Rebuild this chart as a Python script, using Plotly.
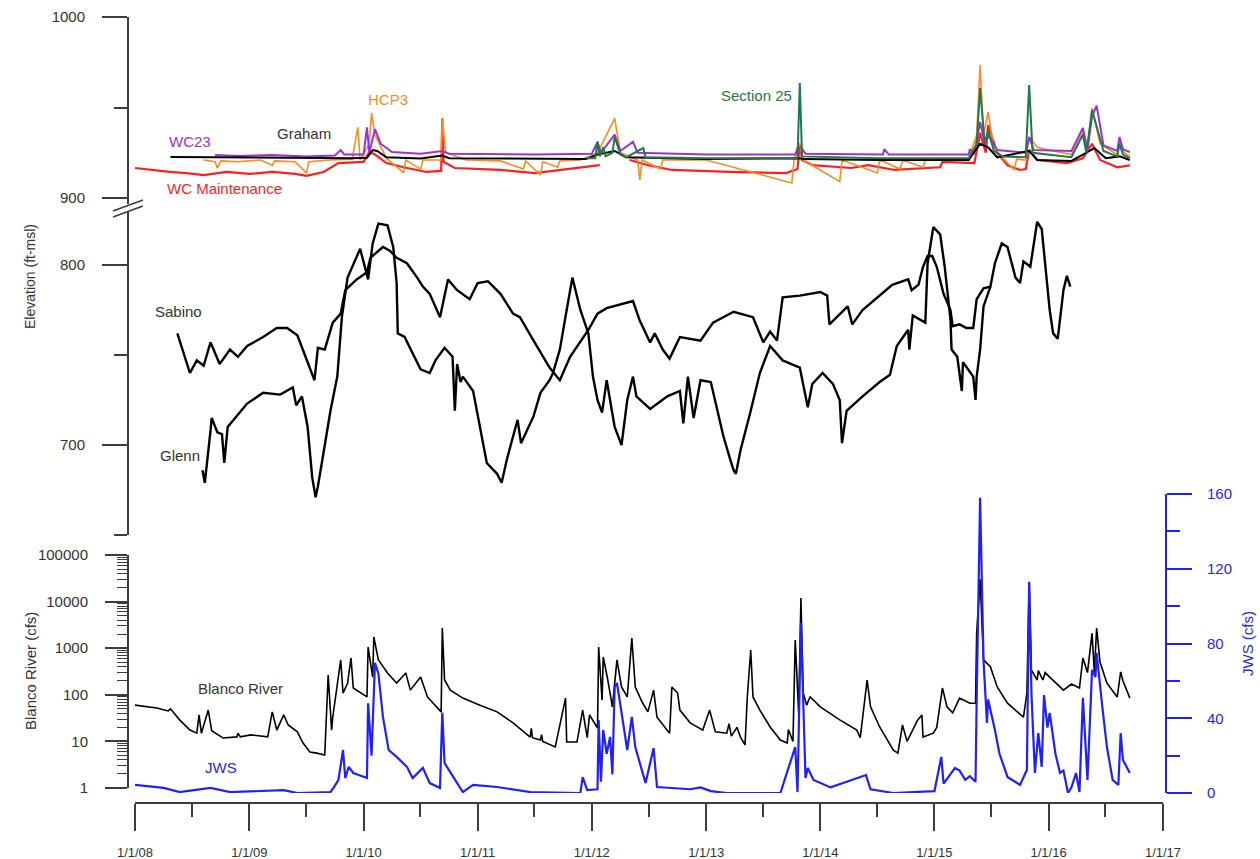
import plotly.graph_objects as go
from datetime import datetime

# ---------------- data (decimal years) ----------------
# Top panel: elevation (ft-msl)
wcm_t = [2008.0, 2008.15, 2008.3, 2008.45, 2008.6, 2008.8, 2009.0, 2009.2, 2009.4, 2009.5, 2009.65, 2009.78,
         2010.0, 2010.05, 2010.1, 2010.2, 2010.35, 2010.55, 2010.68, 2010.69, 2010.7, 2010.8, 2011.2, 2011.5,
         2011.85, 2012.07, 2012.2, 2012.33, 2012.5, 2012.7, 2013.2, 2013.7, 2013.8, 2013.82, 2013.84, 2013.93,
         2014.27, 2014.42, 2014.65, 2015.05, 2015.07, 2015.35, 2015.4, 2015.45, 2015.47, 2015.55, 2015.64,
         2015.75, 2015.8, 2015.83, 2015.9, 2016.16, 2016.3, 2016.38, 2016.45, 2016.6, 2016.71]
wcm_v = [916.6, 915.5, 914.4, 913.8, 912.7, 914.4, 913.3, 914.4, 913.3, 912.2, 914.4, 919.3,
         920.0, 925.4, 924.0, 919.3, 917.0, 914.4, 915.0, 944.0, 920.0, 916.6, 915.5, 913.8,
         916.6, 918.2, None, 921.0, 918.0, 915.5, 914.4, 913.8, 916.0, 930.0, 921.0, 918.2,
         916.6, 918.2, 915.5, 917.0, 920.0, 919.3, 936.0, 925.0, 940.3, 925.0, 918.0,
         915.5, 916.0, 926.5, 921.0, 919.3, 922.0, 930.0, 921.0, 917.0, 918.0]

hcp3_t = [2008.6, 2008.7, 2008.72, 2008.75, 2008.9, 2009.1, 2009.2, 2009.22, 2009.4, 2009.5, 2009.52, 2009.7,
          2009.9, 2009.95, 2009.97, 2010.05, 2010.07, 2010.1, 2010.2, 2010.35, 2010.37, 2010.5, 2010.52, 2010.68,
          2010.69, 2010.72, 2010.9, 2011.2, 2011.4, 2011.42, 2011.55, 2011.57, 2011.7, 2011.72, 2011.9, 2012.05,
          2012.2, 2012.25, 2012.4, 2012.42, 2012.44, 2012.6, 2012.62, 2013.0, 2013.75, 2013.77, 2013.82, 2013.85,
          2014.17, 2014.19, 2014.5, 2014.52, 2014.7, 2014.72, 2014.9, 2014.92, 2015.3, 2015.37, 2015.4, 2015.43,
          2015.47, 2015.52, 2015.6, 2015.7, 2015.72, 2015.8, 2015.83, 2015.9, 2016.0, 2016.2, 2016.3, 2016.34,
          2016.38, 2016.45, 2016.6, 2016.62, 2016.66, 2016.71]
hcp3_v = [921.0, 920.0, 916.5, 920.5, 920.0, 921.0, 918.0, 920.5, 920.0, 913.8, 920.0, 921.0,
          921.5, 939.0, 921.0, 930.0, 947.0, 935.0, 922.0, 914.0, 921.0, 916.0, 921.0, 921.0,
          944.0, 925.0, 921.0, 920.5, 916.0, 920.5, 912.7, 920.0, 917.0, 920.5, 921.0, 925.0,
          944.0, 925.0, 921.0, 910.0, 921.0, 916.0, 921.0, 921.0, 908.3, 921.0, 930.0, 921.0,
          909.0, 921.0, 913.8, 921.0, 916.0, 921.0, 917.0, 921.0, 921.5, 935.0, 973.5, 935.0,
          947.5, 928.0, 922.0, 915.5, 921.5, 921.0, 933.7, 928.0, 926.5, 924.0, 936.0, 926.0,
          949.7, 930.0, 924.0, 932.0, 925.0, 923.0]

wc23_t = [2008.7, 2008.9, 2009.2, 2009.5, 2009.75, 2009.8, 2009.83, 2010.0, 2010.03, 2010.05, 2010.1, 2010.15,
          2010.25, 2010.5, 2010.69, 2010.75, 2011.5, 2012.0, 2012.05, 2012.08, 2012.2, 2012.25, 2012.36, 2012.4,
          2013.0, 2013.78, 2013.8, 2013.83, 2013.87, 2014.55, 2014.56, 2014.6, 2015.3, 2015.31, 2015.35, 2015.4,
          2015.45, 2015.47, 2015.55, 2015.8, 2015.83, 2015.87, 2016.2, 2016.3, 2016.34, 2016.38, 2016.42, 2016.48,
          2016.6, 2016.62, 2016.65, 2016.71]
wc23_v = [923.8, 923.2, 923.8, 923.0, 923.5, 926.5, 924.0, 924.0, 939.0, 925.0, 938.0, 930.0,
          925.4, 924.5, 926.0, 924.5, 924.0, 924.5, 931.0, 925.0, 935.0, 926.0, 931.0, 925.0,
          924.0, 924.0, 927.6, 928.0, 924.5, 924.0, 927.0, 924.0, 924.0, 927.0, 924.5, 942.0,
          928.0, 935.0, 926.5, 925.0, 933.7, 926.5, 926.0, 938.7, 927.0, 945.0, 951.0, 929.0,
          926.0, 933.7, 927.0, 925.4]

graham_t = [2008.31, 2008.8, 2009.3, 2009.6, 2009.9, 2010.03, 2010.08, 2010.12, 2010.2, 2010.5, 2010.69, 2010.75,
            2011.5, 2011.95, 2012.05, 2012.2, 2012.3, 2013.0, 2013.82, 2013.85, 2014.5, 2015.3, 2015.4, 2015.47,
            2015.55, 2015.83, 2015.9, 2016.2, 2016.3, 2016.4, 2016.5, 2016.62, 2016.71]
graham_v = [922.7, 922.5, 922.3, 921.8, 922.0, 922.2, 926.5, 926.0, 922.5, 921.8, 923.5, 922.0,
            921.5, 921.5, 924.0, 926.0, 922.5, 921.5, 922.0, 921.5, 921.0, 921.0, 930.0, 928.0,
            922.5, 926.0, 921.0, 920.5, 924.0, 927.6, 922.0, 923.0, 921.0]

sec25_t = [2011.95, 2012.03, 2012.05, 2012.07, 2012.1, 2012.12, 2012.18, 2012.2, 2012.25, 2012.3, 2012.45, 2012.47,
           2013.0, 2013.8, 2013.82, 2013.84, 2014.5, 2015.3, 2015.37, 2015.4, 2015.44, 2015.47, 2015.52, 2015.6,
           2015.8, 2015.83, 2015.86, 2016.2, 2016.3, 2016.33, 2016.38, 2016.42, 2016.48, 2016.6, 2016.62, 2016.65,
           2016.71]
sec25_v = [922.0, 922.0, 931.0, 923.0, 928.0, 923.0, 925.0, 933.7, 924.0, 922.5, 927.6, 922.5,
           922.0, 922.0, 963.5, 923.0, 922.0, 922.0, 930.0, 960.8, 930.0, 937.6, 926.0, 923.0,
           922.5, 962.4, 925.0, 922.5, 935.0, 925.0, 948.6, 940.0, 926.0, 923.0, 930.0, 924.0,
           922.0]

# Middle panel: elevation (ft-msl)
sabino_t = [2008.37, 2008.48, 2008.54, 2008.6, 2008.66, 2008.74, 2008.83, 2008.9, 2008.98, 2009.12, 2009.24,
            2009.33, 2009.42, 2009.47, 2009.55, 2009.57, 2009.6, 2009.66, 2009.73, 2009.8, 2009.84, 2009.94,
            2010.03, 2010.06, 2010.17, 2010.23, 2010.29, 2010.38, 2010.47, 2010.52, 2010.58, 2010.67, 2010.74,
            2010.82, 2010.93, 2011.0, 2011.09, 2011.2, 2011.31, 2011.37, 2011.49, 2011.63, 2011.72, 2011.81,
            2011.97, 2012.05, 2012.13, 2012.25, 2012.36, 2012.42, 2012.51, 2012.55, 2012.62, 2012.68, 2012.77,
            2012.95, 2013.06, 2013.24, 2013.41, 2013.5, 2013.56, 2013.62, 2013.67, 2013.82, 2014.0, 2014.06,
            2014.08, 2014.24, 2014.28, 2014.37, 2014.46, 2014.63, 2014.77, 2014.8, 2014.86, 2014.9, 2014.94,
            2014.98, 2015.02, 2015.08, 2015.14, 2015.16, 2015.22, 2015.28, 2015.34, 2015.37, 2015.43, 2015.49,
            2015.53, 2015.59, 2015.64, 2015.71, 2015.75, 2015.78, 2015.84, 2015.9, 2015.94, 2016.01, 2016.04,
            2016.08, 2016.13, 2016.16, 2016.19]
sabino_v = [762, 740, 747, 744, 757, 745, 753, 749, 755, 760, 765,
            765, 761, 753, 740, 736, 754, 753, 768, 773, 786, 792,
            796, 804, 810, 808, 804, 801, 793, 788, 784, 771, 792,
            786, 781, 790, 791, 784, 773, 771, 758, 743, 736, 749,
            764, 773, 776, 778, 780, 769, 757, 762, 753, 748, 760,
            758, 768, 774, 771, 757, 763, 758, 782, 783, 785, 783,
            767, 777, 767, 775, 780, 789, 792, 786, 789, 799, 805,
            805, 799, 784, 775, 766, 767, 765, 765, 781, 787, 788,
            801, 812, 810, 793, 790, 802, 799, 824, 820, 775, 762,
            759, 786, 794, 788]

glenn_t = [2008.59, 2008.61, 2008.66, 2008.67, 2008.72, 2008.76, 2008.78, 2008.81, 2008.98, 2009.12, 2009.27,
           2009.38, 2009.41, 2009.46, 2009.51, 2009.55, 2009.58, 2009.6, 2009.65, 2009.71, 2009.77, 2009.81,
           2009.86, 2009.97, 2010.04, 2010.08, 2010.13, 2010.21, 2010.26, 2010.29, 2010.3, 2010.36, 2010.43,
           2010.5, 2010.58, 2010.63, 2010.71, 2010.78, 2010.8, 2010.82, 2010.85, 2010.87, 2010.96, 2011.02,
           2011.08, 2011.17, 2011.21, 2011.26, 2011.35, 2011.38, 2011.49, 2011.55, 2011.63, 2011.66, 2011.72,
           2011.78, 2011.83, 2011.9, 2011.97, 2012.01, 2012.05, 2012.09, 2012.13, 2012.2, 2012.26, 2012.31,
           2012.36, 2012.39, 2012.51, 2012.66, 2012.77, 2012.8, 2012.84, 2012.89, 2012.95, 2013.04, 2013.1,
           2013.15, 2013.21, 2013.24, 2013.26, 2013.3, 2013.39, 2013.47, 2013.56, 2013.67, 2013.82, 2013.89,
           2013.93, 2014.02, 2014.11, 2014.17, 2014.19, 2014.23, 2014.37, 2014.52, 2014.61, 2014.67, 2014.77,
           2014.78, 2014.81, 2014.92, 2014.94, 2014.99, 2015.05, 2015.09, 2015.14, 2015.15, 2015.2, 2015.24,
           2015.25, 2015.34, 2015.36, 2015.37, 2015.4, 2015.43, 2015.49]
glenn_v = [686, 679, 708, 715, 707, 706, 690, 710, 723, 729, 728,
           732, 722, 727, 710, 682, 671, 677, 696, 719, 738, 771,
           793, 809, 792, 812, 823, 822, 810, 790, 762, 760, 751,
           742, 740, 747, 754, 749, 719, 745, 735, 738, 730, 710,
           690, 684, 679, 693, 714, 701, 716, 729, 736, 740, 753,
           775, 793, 775, 762, 738, 725, 718, 736, 710, 700, 725,
           738, 727, 720, 727, 730, 712, 738, 715, 736, 735, 719,
           705, 692, 686, 684, 697, 719, 740, 755, 747, 743, 721,
           734, 740, 734, 725, 701, 719, 727, 735, 739, 755, 764,
           753, 772, 768, 801, 821, 817, 799, 770, 753, 749, 730,
           746, 738, 725, 738, 753, 777, 788]

# Bottom panel: Blanco River (cfs, log scale) and JWS (cfs)
blanco_t = [2008.0, 2008.19, 2008.29, 2008.31, 2008.39, 2008.48, 2008.54, 2008.56, 2008.58, 2008.64, 2008.67,
            2008.77, 2008.89, 2008.9, 2008.92, 2009.01, 2009.16, 2009.2, 2009.24, 2009.3, 2009.34, 2009.42,
            2009.47, 2009.53, 2009.59, 2009.66, 2009.69, 2009.72, 2009.73, 2009.77, 2009.8, 2009.82, 2009.86,
            2009.89, 2009.91, 2010.03, 2010.04, 2010.08, 2010.09, 2010.13, 2010.21, 2010.29, 2010.37, 2010.41,
            2010.5, 2010.56, 2010.68, 2010.69, 2010.71, 2010.76, 2010.87, 2011.02, 2011.17, 2011.31, 2011.46,
            2011.47, 2011.48, 2011.55, 2011.56, 2011.57, 2011.68, 2011.77, 2011.78, 2011.87, 2011.92, 2011.96,
            2011.98, 2012.05, 2012.06, 2012.09, 2012.1, 2012.14, 2012.18, 2012.22, 2012.26, 2012.31, 2012.35,
            2012.38, 2012.44, 2012.49, 2012.54, 2012.57, 2012.68, 2012.7, 2012.75, 2012.77, 2012.86, 2012.97,
            2013.03, 2013.08, 2013.18, 2013.2, 2013.22, 2013.27, 2013.3, 2013.34, 2013.36, 2013.39, 2013.41,
            2013.47, 2013.56, 2013.65, 2013.71, 2013.72, 2013.76, 2013.78, 2013.81, 2013.83, 2013.85, 2013.88,
            2013.91, 2014.0, 2014.17, 2014.32, 2014.35, 2014.41, 2014.44, 2014.52, 2014.64, 2014.68, 2014.72,
            2014.76, 2014.85, 2014.89, 2014.9, 2014.99, 2015.02, 2015.07, 2015.11, 2015.16, 2015.22, 2015.31,
            2015.36, 2015.37, 2015.4, 2015.43, 2015.49, 2015.55, 2015.64, 2015.78, 2015.81, 2015.83, 2015.85,
            2015.9, 2015.91, 2015.95, 2015.97, 2016.01, 2016.13, 2016.2, 2016.27, 2016.3, 2016.34, 2016.38,
            2016.4, 2016.42, 2016.45, 2016.51, 2016.6, 2016.63, 2016.65, 2016.71]
blanco_v = [60, 52, 45, 50, 29, 17.5, 15, 37, 15, 47, 17,
            11.8, 12.5, 15, 12.5, 13.8, 12.5, 43, 17.5, 37, 22.5, 16,
            9.2, 5.9, 5.6, 5.1, 266, 17.5, 33, 147, 560, 109, 177,
            617, 140, 90, 1060, 240, 1740, 560, 295, 178, 295, 126,
            240, 90, 43, 2700, 208, 126, 85, 60, 43, 25, 12.4,
            19, 12, 10.7, 14, 10, 7.6, 85, 9.7, 9.7, 47, 12,
            37, 19.4, 1060, 77, 650, 208, 55, 560, 147, 90, 1650,
            147, 70, 43, 126, 33, 15, 147, 109, 47, 25, 17.5,
            47, 16, 15, 24, 13, 20, 12.4, 8.4, 90, 915, 90,
            47, 20.4, 10.7, 9.2, 18, 10, 1500, 41, 12000, 109, 60,
            90, 55, 29, 17.5, 12, 208, 55, 20.4, 6.5, 5.6, 22.5,
            10, 28, 37, 12.4, 15, 20, 140, 55, 41, 85, 66,
            66, 2100, 30000, 560, 400, 147, 66, 33, 109, 25000, 340,
            208, 330, 208, 300, 240, 126, 170, 140, 617, 300, 2100,
            300, 2700, 500, 177, 90, 310, 200, 85]

jws_t = [2008.0, 2008.13, 2008.25, 2008.39, 2008.66, 2008.83, 2009.3, 2009.42, 2009.71, 2009.74, 2009.78,
         2009.82, 2009.84, 2009.87, 2009.91, 2010.03, 2010.04, 2010.07, 2010.1, 2010.13, 2010.17, 2010.22,
         2010.29, 2010.38, 2010.43, 2010.52, 2010.58, 2010.67, 2010.69, 2010.71, 2010.82, 2010.87, 2010.96,
         2011.17, 2011.46, 2011.9, 2011.92, 2011.96, 2012.05, 2012.06, 2012.08, 2012.1, 2012.13, 2012.16,
         2012.18, 2012.2, 2012.22, 2012.25, 2012.31, 2012.35, 2012.38, 2012.47, 2012.54, 2012.57, 2012.86,
         2012.95, 2013.04, 2013.18, 2013.65, 2013.78, 2013.8, 2013.83, 2013.87, 2013.89, 2013.94, 2014.09,
         2014.4, 2014.44, 2014.64, 2015.0, 2015.06, 2015.08, 2015.18, 2015.22, 2015.27, 2015.31, 2015.36,
         2015.37, 2015.4, 2015.43, 2015.46, 2015.47, 2015.5, 2015.53, 2015.57, 2015.64, 2015.75, 2015.81,
         2015.83, 2015.85, 2015.88, 2015.91, 2015.94, 2015.96, 2015.99, 2016.01, 2016.06, 2016.1, 2016.13,
         2016.17, 2016.2, 2016.24, 2016.27, 2016.3, 2016.34, 2016.38, 2016.41, 2016.42, 2016.47, 2016.51,
         2016.56, 2016.61, 2016.63, 2016.65, 2016.71]
jws_v = [4.3, 3.5, 2.7, 0.5, 2.7, 0.5, 1.5, 0.0, 0.5, 3.0, 7.0,
         23.0, 8.0, 14.0, 10.7, 8.0, 48.0, 20.0, 69.6, 64.0, 40.7, 23.0,
         19.3, 14.0, 8.0, 13.4, 5.3, 2.7, 43.0, 16.0, 5.3, 0.5, 4.3,
         3.2, 0.5, 0.0, 8.5, 1.5, 2.0, 39.0, 6.0, 33.7, 21.0, 30.0,
         10.0, 56.7, 58.9, 46.0, 23.0, 40.7, 24.6, 5.3, 24.0, 3.2, 2.0,
         3.0, 1.0, 0.0, 0.0, 24.6, 0.5, 91.0, 8.0, 13.4, 7.0, 3.0,
         9.6, 2.0, 0.0, 1.0, 19.3, 5.0, 13.4, 12.0, 7.0, 9.0, 6.0,
         50.0, 158.0, 71.0, 37.5, 50.0, 42.0, 33.7, 21.0, 8.6, 4.3, 12.3,
         113.0, 53.5, 10.7, 32.0, 14.0, 52.4, 35.0, 42.8, 21.0, 10.7, 12.0,
         0.0, 3.0, 10.7, 0.5, 51.0, 7.0, 65.8, 62.0, 75.0, 46.0, 24.6,
         7.0, 4.3, 32.0, 17.7, 10.7]

x_range = [2008.0, 2017.0]
blanco_ticks = [1, 10, 100, 1000, 10000, 100000]
blanco_ticktext = ['1', '10', '100', '1000', '10000', '100000']


def to_date(d):
    """Decimal year -> datetime."""
    if d is None:
        return None
    y = int(d)
    start = datetime(y, 1, 1)
    end = datetime(y + 1, 1, 1)
    return start + (end - start) * (d - y)


def dates(ts):
    return [to_date(t) for t in ts]


# ---------------- figure ----------------
W, H = 1260, 859
ML, MR, MT, MB = 128, 94, 17, 56
PW, PH = W - ML - MR, H - MT - MB


def px_x(p):  # pixel -> paper x
    return (p - ML) / PW


def px_y(p):  # pixel -> paper y
    return (H - MB - p) / PH


AX = '#3c3c3c'
TXT = '#333333'
PURPLE = '#9a33d4'
ORANGE = '#ff8a1f'
GREEN = '#1e7a48'
RED = '#ff1f1f'
BLUE = '#1f1fff'
FONT = 'Liberation Sans, Arial, sans-serif'

fig = go.Figure()

# top panel
fig.add_trace(go.Scatter(x=dates(wcm_t), y=wcm_v, mode='lines', line=dict(color=RED, width=2.2),
                         yaxis='y', connectgaps=False, name='WC Maintenance'))
fig.add_trace(go.Scatter(x=dates(hcp3_t), y=hcp3_v, mode='lines', line=dict(color=ORANGE, width=1.6),
                         yaxis='y', name='HCP3'))
fig.add_trace(go.Scatter(x=dates(wc23_t), y=wc23_v, mode='lines', line=dict(color=PURPLE, width=2),
                         yaxis='y', name='WC23'))
fig.add_trace(go.Scatter(x=dates(graham_t), y=graham_v, mode='lines', line=dict(color='black', width=2),
                         yaxis='y', name='Graham'))
fig.add_trace(go.Scatter(x=dates(sec25_t), y=sec25_v, mode='lines', line=dict(color=GREEN, width=2),
                         yaxis='y', name='Section 25'))
# middle panel
fig.add_trace(go.Scatter(x=dates(sabino_t), y=sabino_v, mode='lines', line=dict(color='black', width=2.4),
                         yaxis='y2', name='Sabino'))
fig.add_trace(go.Scatter(x=dates(glenn_t), y=glenn_v, mode='lines', line=dict(color='black', width=2.4),
                         yaxis='y2', name='Glenn'))
# bottom panel
fig.add_trace(go.Scatter(x=dates(blanco_t), y=blanco_v, mode='lines', line=dict(color='black', width=1.6),
                         yaxis='y3', name='Blanco River'))
fig.add_trace(go.Scatter(x=dates(jws_t), y=jws_v, mode='lines', line=dict(color=BLUE, width=2.2),
                         yaxis='y4', name='JWS'))

common_y = dict(showgrid=False, zeroline=False, showline=True, linecolor=AX, linewidth=2,
                ticks='outside', tickcolor=AX, tickwidth=2, automargin=False,
                tickfont=dict(family=FONT, size=15, color=TXT))

log_minor = [m * 10 ** k for k in range(5) for m in range(2, 10)]

fig.update_layout(
    width=W, height=H,
    margin=dict(l=ML, r=MR, t=MT, b=MB, autoexpand=False),
    paper_bgcolor='white', plot_bgcolor='rgba(0,0,0,0)',
    showlegend=False,
    font=dict(family=FONT, color=TXT),
    xaxis=dict(type='date', range=[to_date(x_range[0]), to_date(x_range[1])],
               domain=[px_x(135), px_x(1163)], anchor='free', position=0, automargin=False,
               showgrid=False, zeroline=False, showline=True, linecolor=AX, linewidth=2,
               ticks='outside', ticklen=27, tickwidth=1.5, tickcolor=AX,
               dtick='M12', tick0='2008-01-01', tickformat='%-m/%-d/%y',
               ticklabelstandoff=10,
               minor=dict(dtick='M6', tick0='2008-01-01', ticklen=13, tickwidth=1.5,
                          tickcolor=AX, showgrid=False),
               tickfont=dict(family=FONT, size=13, color=TXT)),
    yaxis=dict(range=[896.7, 1000], domain=[px_y(204), 1.0], anchor='free', position=0,
               tickmode='linear', tick0=900, dtick=100, ticklen=25, ticklabelstandoff=14,
               minor=dict(dtick=50, tick0=900, ticklen=13, tickwidth=2, tickcolor=AX, showgrid=False),
               **common_y),
    yaxis2=dict(range=[650, 830], domain=[px_y(535), px_y(211)], anchor='free', position=0,
                tickmode='linear', tick0=700, dtick=100, ticklen=25, ticklabelstandoff=14,
                minor=dict(dtick=50, tick0=650, ticklen=13, tickwidth=2, tickcolor=AX, showgrid=False),
                **common_y),
    yaxis3=dict(type='log', range=[0, 5], domain=[px_y(788), px_y(555)], anchor='free', position=0,
                tickmode='array', tickvals=blanco_ticks, ticktext=blanco_ticktext,
                ticklen=22, ticklabelstandoff=14,
                minor=dict(tickmode='array', tickvals=log_minor, ticklen=10, tickwidth=1.2,
                           tickcolor=AX, showgrid=False),
                **common_y),
    yaxis4=dict(range=[0, 160], domain=[px_y(793), px_y(494)], anchor='free', position=1, side='right',
                showgrid=False, zeroline=False, showline=True, linecolor=BLUE, linewidth=2, automargin=False,
                ticks='outside', tickcolor=BLUE, tickwidth=2, ticklen=25, ticklabelstandoff=12,
                tickmode='linear', tick0=0, dtick=40,
                minor=dict(dtick=20, ticklen=13, tickwidth=2, tickcolor=BLUE, showgrid=False),
                tickfont=dict(family=FONT, size=15, color=BLUE)),
)

# axis break marks
for yo in (0, 6):
    fig.add_shape(type='line', xref='paper', yref='paper',
                  x0=px_x(113), y0=px_y(211 + yo), x1=px_x(143), y1=px_y(200 + yo),
                  line=dict(color=AX, width=1.6))

# series labels
def lab(text, t, y, yref, color, size=15):
    fig.add_annotation(x=to_date(t), y=y, xref='x', yref=yref, text=text, showarrow=False,
                       xanchor='center', yanchor='middle',
                       font=dict(family=FONT, size=size, color=color))

lab('WC23', 2008.48, 931.5, 'y', PURPLE)
lab('Graham', 2009.48, 935.9, 'y', TXT)
lab('HCP3', 2010.21, 954.7, 'y', ORANGE)
lab('Section 25', 2013.44, 956.4, 'y', GREEN)
lab('WC Maintenance', 2008.78, 905.0, 'y', RED)
lab('Sabino', 2008.38, 774.4, 'y2', TXT)
lab('Glenn', 2008.39, 693.9, 'y2', TXT)
lab('Blanco River', 2008.92, 2.146, 'y3', TXT)
lab('JWS', 2008.75, 13.4, 'y4', BLUE)

# axis titles
def title(text, xp, yp, color, size):
    fig.add_annotation(x=px_x(xp), y=px_y(yp), xref='paper', yref='paper', text=text,
                       textangle=-90, showarrow=False, xanchor='center', yanchor='middle',
                       font=dict(family=FONT, size=size, color=color))

title('Elevation (ft-msl)', 30, 277, TXT, 14)
title('Blanco River (cfs)', 30, 671, TXT, 15)
title('JWS (cfs)', 1247, 644, BLUE, 15)

fig.write_html('out.html',
               config={'displayModeBar': False},
               post_script="document.body.style.margin='0';document.body.style.padding='0';"
                           "document.documentElement.style.overflow='hidden';")
